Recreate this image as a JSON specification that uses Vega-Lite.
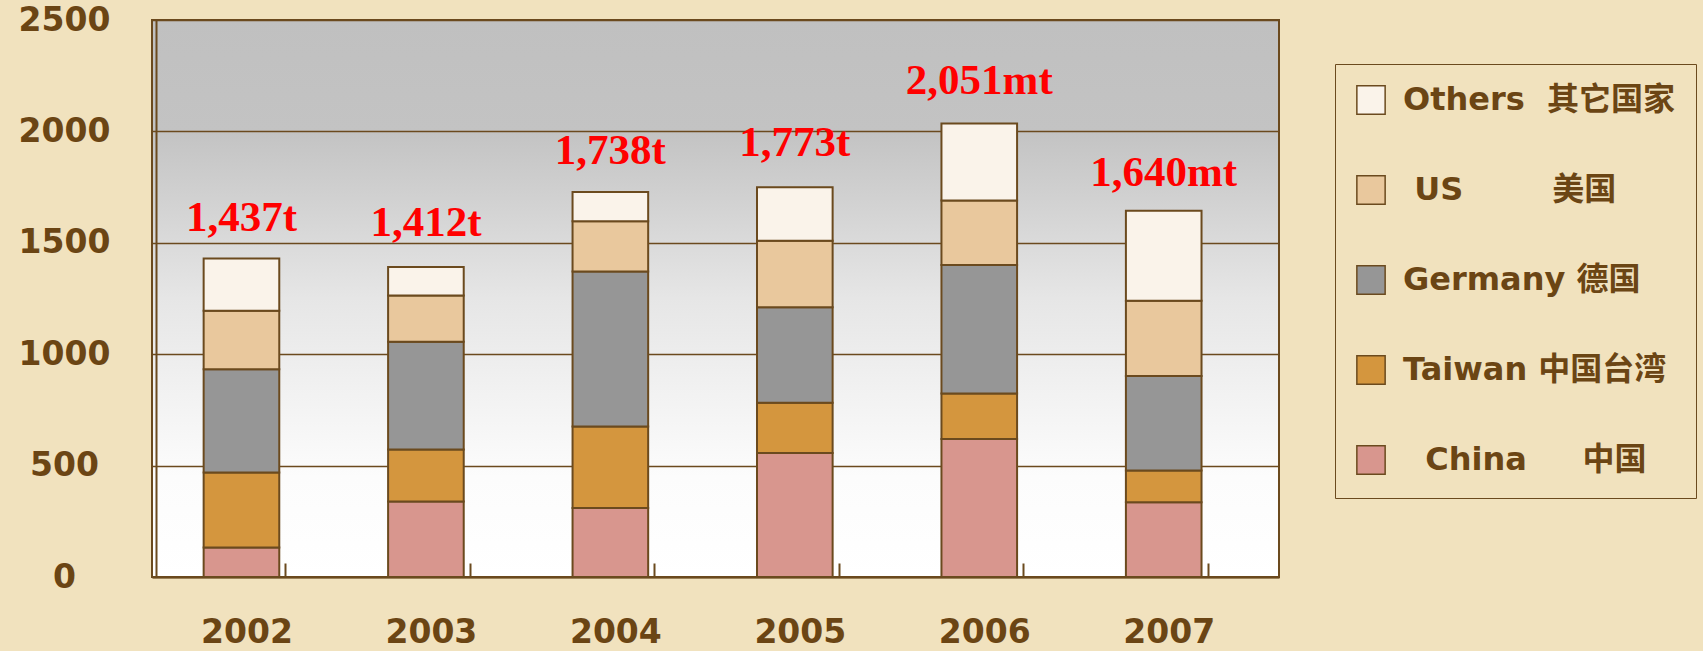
{
  "$schema": "https://vega.github.io/schema/vega-lite/v6.json",
  "width": 1127,
  "height": 557,
  "autosize": {"type": "none"},
  "padding": {"left": 152, "top": 20, "right": 424, "bottom": 74},
  "background": "#F1E2BE",
  "config": {
    "view": {
      "stroke": "#6B4A1E",
      "strokeWidth": 2,
      "fill": {
        "gradient": "linear",
        "x1": 0, "y1": 0, "x2": 0, "y2": 1,
        "stops": [
          {"offset": 0, "color": "#C0C0C0"},
          {"offset": 0.2, "color": "#C3C3C3"},
          {"offset": 0.5, "color": "#E6E6E6"},
          {"offset": 0.82, "color": "#FCFCFC"},
          {"offset": 1, "color": "#FFFFFF"}
        ]
      }
    }
  },
  "layer": [
    {
      "data": {
        "values": [
          {"year": 2002, "country": "China", "value": 132},
          {"year": 2002, "country": "Taiwan", "value": 337},
          {"year": 2002, "country": "Germany", "value": 463},
          {"year": 2002, "country": "US", "value": 263},
          {"year": 2002, "country": "Others", "value": 234},
          {"year": 2003, "country": "China", "value": 339},
          {"year": 2003, "country": "Taiwan", "value": 233},
          {"year": 2003, "country": "Germany", "value": 484},
          {"year": 2003, "country": "US", "value": 208},
          {"year": 2003, "country": "Others", "value": 127},
          {"year": 2004, "country": "China", "value": 310},
          {"year": 2004, "country": "Taiwan", "value": 366},
          {"year": 2004, "country": "Germany", "value": 695},
          {"year": 2004, "country": "US", "value": 226},
          {"year": 2004, "country": "Others", "value": 131},
          {"year": 2005, "country": "China", "value": 557},
          {"year": 2005, "country": "Taiwan", "value": 225},
          {"year": 2005, "country": "Germany", "value": 429},
          {"year": 2005, "country": "US", "value": 298},
          {"year": 2005, "country": "Others", "value": 240},
          {"year": 2006, "country": "China", "value": 619},
          {"year": 2006, "country": "Taiwan", "value": 205},
          {"year": 2006, "country": "Germany", "value": 576},
          {"year": 2006, "country": "US", "value": 290},
          {"year": 2006, "country": "Others", "value": 346},
          {"year": 2007, "country": "China", "value": 335},
          {"year": 2007, "country": "Taiwan", "value": 143},
          {"year": 2007, "country": "Germany", "value": 424},
          {"year": 2007, "country": "US", "value": 338},
          {"year": 2007, "country": "Others", "value": 404}
        ]
      },
      "transform": [
        {"calculate": "indexof(['China', 'Taiwan', 'Germany', 'US', 'Others'], datum.country)", "as": "stack_order"}
      ],
      "mark": {"type": "bar", "stroke": "#6B4A1E", "strokeWidth": 2},
      "encoding": {
        "x": {
          "field": "year",
          "type": "ordinal",
          "scale": {"paddingInner": 0.59, "paddingOuter": 0.35, "align": 0.4},
          "axis": {
            "title": null,
            "labelAngle": 0,
            "tickSize": -14,
            "tickOffset": 44,
            "tickColor": "#6B4A1E",
            "tickWidth": 2,
            "labelOffset": -39,
            "labelPadding": 53,
            "domainColor": "#6B4A1E",
            "domainWidth": 2,
            "labelFont": "DejaVu Sans",
            "labelFontWeight": "bold",
            "labelFontSize": 33,
            "labelColor": "#6B4514"
          }
        },
        "y": {
          "field": "value",
          "type": "quantitative",
          "stack": "zero",
          "scale": {"domain": [0, 2500], "nice": false},
          "axis": {
            "title": null,
            "format": "d",
            "values": [0, 500, 1000, 1500, 2000, 2500],
            "grid": true,
            "gridColor": "#6B4A1E",
            "gridWidth": 1.5,
            "ticks": false,
            "labelAlign": "center",
            "labelPadding": 92,
            "offset": -4,
            "domainColor": "#6B4A1E",
            "domainWidth": 2,
            "labelFont": "DejaVu Sans",
            "labelFontWeight": "bold",
            "labelFontSize": 33,
            "labelColor": "#6B4514"
          }
        },
        "order": {"field": "stack_order", "type": "quantitative", "sort": "ascending"},
        "color": {
          "field": "country",
          "type": "nominal",
          "scale": {
            "domain": ["Others", "US", "Germany", "Taiwan", "China"],
            "range": ["#FAF3EA", "#E9C89D", "#969696", "#D4963E", "#D8968E"]
          },
          "legend": {
            "orient": "none",
            "legendX": 1183,
            "legendY": 44,
            "direction": "vertical",
            "title": null,
            "symbolType": "square",
            "symbolSize": 800,
            "symbolStrokeColor": "#6B4A1E",
            "symbolStrokeWidth": 1.5,
            "symbolOpacity": 1,
            "labelFont": "DejaVu Sans, Noto Sans CJK SC",
            "labelFontWeight": "bold",
            "labelFontSize": 32,
            "labelColor": "#6B4514",
            "labelOffset": 16,
            "labelLimit": 500,
            "rowPadding": 54,
            "padding": 20,
            "strokeColor": "#6B4A1E",
            "labelExpr": "datum.label == 'Others' ? 'Others\u00a0\u00a0其它国家' : datum.label == 'US' ? '\u200b\u00a0US\u00a0\u00a0\u00a0\u00a0\u00a0\u00a0\u00a0\u00a0美国' : datum.label == 'Germany' ? 'Germany\u00a0德国' : datum.label == 'Taiwan' ? 'Taiwan\u00a0中国台湾' : '\u200b\u00a0\u00a0China\u00a0\u00a0\u00a0\u00a0\u00a0中国'"
          }
        }
      }
    },
    {
      "data": {
        "values": [
          {"year": 2002, "total": 1437, "label": "1,437t"},
          {"year": 2003, "total": 1412, "label": "1,412t"},
          {"year": 2004, "total": 1738, "label": "1,738t"},
          {"year": 2005, "total": 1773, "label": "1,773t"},
          {"year": 2006, "total": 2051, "label": "2,051mt"},
          {"year": 2007, "total": 1640, "label": "1,640mt"}
        ]
      },
      "mark": {
        "type": "text",
        "font": "Liberation Serif",
        "fontWeight": "bold",
        "fontSize": 43,
        "color": "#FF0000",
        "baseline": "alphabetic",
        "dy": -26
      },
      "encoding": {
        "x": {"field": "year", "type": "ordinal"},
        "y": {"field": "total", "type": "quantitative"},
        "text": {"field": "label"}
      }
    }
  ]
}
